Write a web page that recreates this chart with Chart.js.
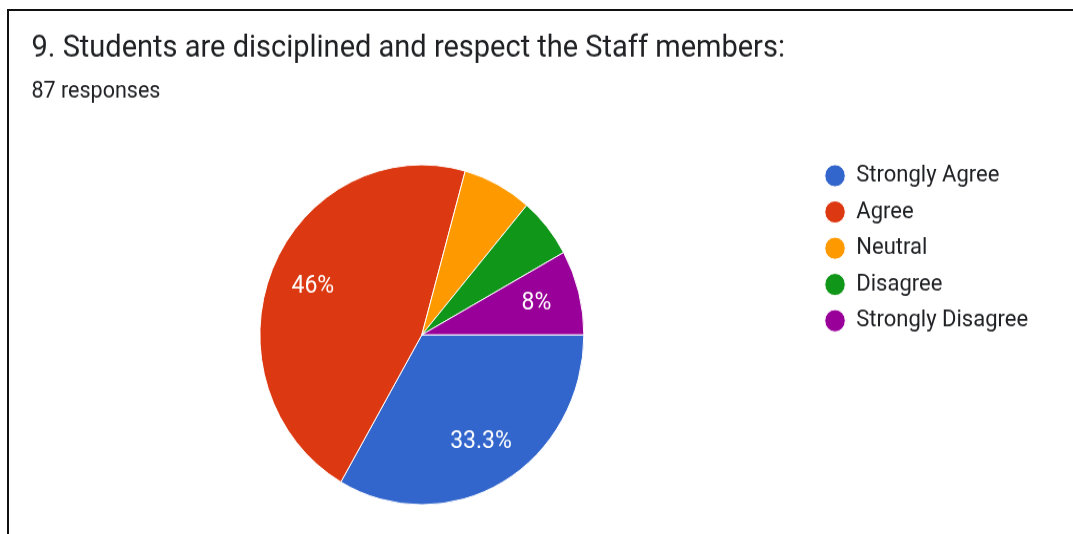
<!DOCTYPE html>
<html><head><meta charset="utf-8">
<script src="https://cdn.jsdelivr.net/npm/chart.js@4"></script>
<style>
html,body{margin:0;padding:0;background:#fff;overflow:hidden;width:1073px;height:534px;}
#wrap{position:absolute;left:0;top:0;width:1073px;height:509px;transform:scaleY(1.0491);transform-origin:0 0;}
#frame{position:absolute;left:7px;top:9px;width:1100px;height:600px;border-top:2px solid #111;border-left:2px solid #111;pointer-events:none;}
</style></head><body>
<div id="wrap"><canvas id="c" width="1073" height="509"></canvas></div>
<div id="frame"></div>
<script>
const categories = ['Strongly Agree', 'Agree', 'Neutral', 'Disagree', 'Strongly Disagree'];
const responses = [29, 40, 6, 5, 7];
const sliceColors = ['#3366cc', '#dc3912', '#ff9900', '#109618', '#990099'];
const titleText = '9. Students are disciplined and respect the Staff members:';
const subtitleText = '87 responses';

const sliceLabels = {
  id: 'sliceLabels',
  afterDatasetsDraw(chart) {
    const ctx = chart.ctx;
    const meta = chart.getDatasetMeta(0);
    const data = chart.data.datasets[0].data;
    const total = data.reduce((a, b) => a + b, 0);
    ctx.save();
    ctx.fillStyle = '#ffffff';
    ctx.font = '23px Roboto';
    ctx.textAlign = 'center';
    ctx.textBaseline = 'middle';
    meta.data.forEach((arc, i) => {
      const pct = data[i] / total * 100;
      if (pct < 7.5) return;
      const p = arc.getProps(['x', 'y', 'startAngle', 'endAngle', 'outerRadius'], true);
      const mid = (p.startAngle + p.endAngle) / 2;
      const r = p.outerRadius * 0.73;
      const txt = (Math.round(pct * 10) / 10).toString() + '%';
      ctx.fillText(txt, p.x + Math.cos(mid) * r, p.y + Math.sin(mid) * r);
    });
    ctx.restore();
  }
};

new Chart(document.getElementById('c'), {
  type: 'pie',
  data: {
    labels: categories,
    datasets: [{
      data: responses,
      backgroundColor: sliceColors,
      borderColor: '#ffffff',
      borderWidth: 1,
      radius: 162
    }]
  },
  options: {
    responsive: false,
    animation: false,
    devicePixelRatio: 1,
    rotation: 90,
    layout: { padding: { left: 31.5, right: 34.9, top: 0, bottom: 14.75 } },
    plugins: {
      title: {
        display: true, text: titleText, align: 'start', color: '#202124',
        font: { family: 'Roboto', size: 29, weight: 'normal' },
        padding: { top: 29.8, bottom: 0 }
      },
      subtitle: {
        display: true, text: subtitleText, align: 'start', color: '#202124',
        font: { family: 'Roboto', size: 21.5, weight: 'normal' },
        padding: { top: 9.8, bottom: 43.75 }
      },
      legend: {
        position: 'right', align: 'start', fullSize: false,
        labels: {
          usePointStyle: true, pointStyle: 'circle', pointStyleWidth: 20.5, boxHeight: 15,
          padding: 12.55, color: '#202124',
          font: { family: 'Roboto', size: 22 }
        }
      },
      tooltip: { enabled: false }
    }
  },
  plugins: [sliceLabels]
});
</script>
</body></html>
